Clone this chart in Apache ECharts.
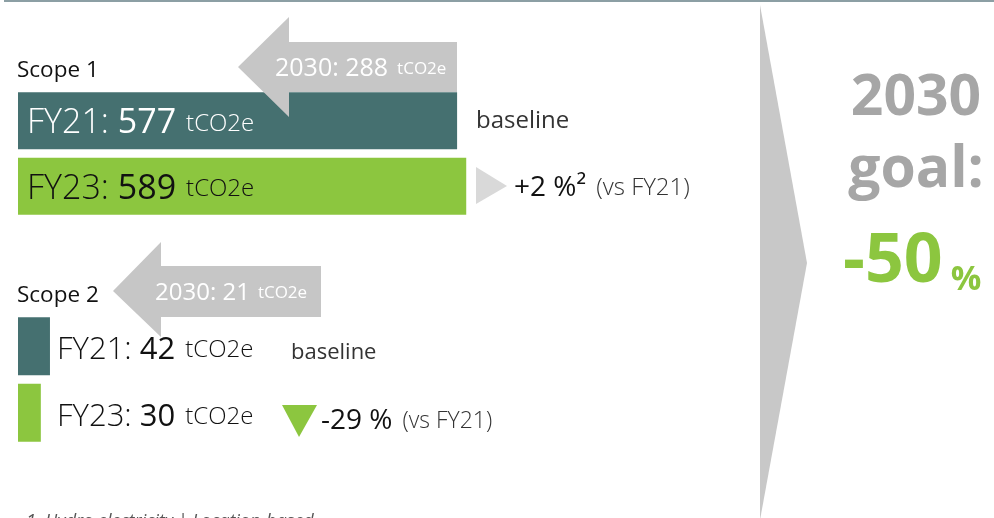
<!DOCTYPE html>
<html>
<head>
<meta charset="utf-8">
<script src="https://cdn.jsdelivr.net/npm/echarts@6/dist/echarts.min.js"></script>
<style>
  html, body { margin: 0; padding: 0; background: #ffffff; }
  #chart { width: 994px; height: 518px; }
</style>
</head>
<body>
<div id="chart"></div>
<script>
// Emissions by scope (tCO2e), baseline FY21 vs FY23
const periods = ['FY21', 'FY23'];
const scope1 = [577, 589];
const scope2 = [42, 30];
const target2030 = [288, 21];
const goalYear = '2030';
const goalPct = -50;
const unit = 'tCO2e';

const FONT = 'Open Sans';
const TEAL = '#457070';
const GREEN = '#8cc63f';
const ARROW_GREY = '#c6c6c6';

const pct = v => Math.round((v[1] - v[0]) / v[0] * 100);
const change1 = pct(scope1);
const change2 = pct(scope2);
const signed = n => (n > 0 ? '+' : '') + n;

const chart = echarts.init(document.getElementById('chart'), null, { renderer: 'canvas' });

function barData(values) {
  return values.map((v, i) => ({
    value: v,
    itemStyle: { color: i === 0 ? TEAL : GREEN }
  }));
}

// light (w) and dark (d) variants of the value label
function labelRich(size, unitSize) {
  const out = {};
  [['w', '#ffffff'], ['d', '#111111']].forEach(([k, c]) => {
    out['a' + k] = { fontFamily: FONT, fontSize: size, fontWeight: 300, color: c };
    out['b' + k] = { fontFamily: FONT, fontSize: size, fontWeight: 400, color: c, padding: [0, 10, 0, 0] };
    out['c' + k] = { fontFamily: FONT, fontSize: unitSize, fontWeight: 300, color: c };
  });
  return out;
}

const makeFmt = darkFor => p => {
  const k = darkFor(p.dataIndex) ? 'd' : 'w';
  return `{a${k}|${periods[p.dataIndex]}: }{b${k}|${p.value}}{c${k}|${unit}}`;
};

const option = {
  animation: false,
  backgroundColor: '#ffffff',
  grid: [
    { left: 18, width: 761, top: 88, height: 131 },
    { left: 18, width: 761, top: 313, height: 133 }
  ],
  xAxis: [
    { gridIndex: 0, type: 'value', min: 0, max: 1000, show: false },
    { gridIndex: 1, type: 'value', min: 0, max: 1000, show: false }
  ],
  yAxis: [
    { gridIndex: 0, type: 'category', data: periods, inverse: true, show: false },
    { gridIndex: 1, type: 'category', data: periods, inverse: true, show: false }
  ],
  series: [
    {
      type: 'bar',
      xAxisIndex: 0, yAxisIndex: 0,
      barWidth: 57,
      data: barData(scope1),
      label: {
        show: true,
        position: 'insideLeft',
        distance: 9,
        offset: [0, 3],
        formatter: makeFmt(i => i === 1),
        rich: labelRich(34, 24)
      },
      z: 2
    },
    {
      type: 'bar',
      xAxisIndex: 1, yAxisIndex: 1,
      barWidth: 58,
      data: barData(scope2),
      label: {
        show: true,
        position: [39, '50%'],
        align: 'left',
        verticalAlign: 'middle',
        offset: [0, 4],
        formatter: makeFmt(() => true),
        rich: labelRich(31, 24)
      },
      z: 2
    }
  ],
  graphic: [
    // rule along the top edge
    { type: 'line', shape: { x1: 4, y1: 1, x2: 994, y2: 1 }, style: { stroke: '#8c9fa4', lineWidth: 2 }, z: 10 },

    // section headings
    { type: 'text', x: 17, y: 71, style: { text: 'Scope 1', fontFamily: FONT, fontSize: 22.5, fill: '#111', verticalAlign: 'middle' }, z: 10 },
    { type: 'text', x: 17, y: 296, style: { text: 'Scope 2', fontFamily: FONT, fontSize: 22.5, fill: '#111', verticalAlign: 'middle' }, z: 10 },

    // 2030 target callout arrows
    {
      type: 'polygon', z: 20,
      shape: { points: [[238, 67], [289, 17], [289, 42], [457, 42], [457, 92], [289, 92], [289, 117]] },
      style: { fill: ARROW_GREY }
    },
    {
      type: 'text', x: 275, y: 69, z: 21,
      style: {
        text: `{a|${goalYear}: ${target2030[0]}}{b|${unit}}`,
        verticalAlign: 'middle',
        rich: {
          a: { fontFamily: FONT, fontSize: 25, fill: '#ffffff', padding: [0, 9, 0, 0] },
          b: { fontFamily: FONT, fontSize: 17, fill: '#ffffff' }
        }
      }
    },
    {
      type: 'polygon', z: 20,
      shape: { points: [[113, 291], [161, 242], [161, 266], [321, 266], [321, 317], [161, 317], [161, 337]] },
      style: { fill: ARROW_GREY }
    },
    {
      type: 'text', x: 155, y: 293, z: 21,
      style: {
        text: `{a|${goalYear}: ${target2030[1]}}{b|${unit}}`,
        verticalAlign: 'middle',
        rich: {
          a: { fontFamily: FONT, fontSize: 24, fill: '#ffffff', padding: [0, 8, 0, 0] },
          b: { fontFamily: FONT, fontSize: 17, fill: '#ffffff' }
        }
      }
    },

    // baseline notes
    { type: 'text', x: 476, y: 121, style: { text: 'baseline', fontFamily: FONT, fontSize: 24, fill: '#333', verticalAlign: 'middle' }, z: 10 },
    { type: 'text', x: 291, y: 353, style: { text: 'baseline', fontFamily: FONT, fontSize: 22, fill: '#333', verticalAlign: 'middle' }, z: 10 },

    // change vs FY21, scope 1
    { type: 'polygon', shape: { points: [[476, 167], [507, 186], [476, 204]] }, style: { fill: '#d9d9d9' }, z: 10 },
    {
      type: 'text', x: 514, y: 188, z: 10,
      style: {
        text: `{a|${signed(change1)} %²}{b|(vs ${periods[0]})}`,
        verticalAlign: 'middle',
        rich: {
          a: { fontFamily: FONT, fontSize: 28, fill: '#111', padding: [0, 10, 0, 0] },
          b: { fontFamily: FONT, fontSize: 24, fontWeight: 300, fill: '#333' }
        }
      }
    },

    // change vs FY21, scope 2
    { type: 'polygon', shape: { points: [[282, 405], [317, 405], [299, 437]] }, style: { fill: GREEN }, z: 10 },
    {
      type: 'text', x: 321, y: 421, z: 10,
      style: {
        text: `{a|${signed(change2)} %}{b|(vs ${periods[0]})}`,
        verticalAlign: 'middle',
        rich: {
          a: { fontFamily: FONT, fontSize: 28, fill: '#111', padding: [0, 10, 0, 0] },
          b: { fontFamily: FONT, fontSize: 23, fontWeight: 300, fill: '#333' }
        }
      }
    },

    // chevron leading to the goal
    { type: 'polygon', shape: { points: [[760, 5], [807, 263], [760, 520]] }, style: { fill: '#c8c8c8' }, z: 5 },

    // 2030 goal
    { type: 'text', x: 916, y: 99, style: { text: goalYear, fontFamily: FONT, fontWeight: 700, fontSize: 57, fill: '#a6a6a6', align: 'center', verticalAlign: 'middle' }, z: 10 },
    { type: 'text', x: 916, y: 171, style: { text: 'goal:', fontFamily: FONT, fontWeight: 700, fontSize: 57, fill: '#a6a6a6', align: 'center', verticalAlign: 'middle' }, z: 10 },
    {
      type: 'text', x: 843, y: 263, z: 10,
      style: {
        text: `{a|${goalPct}}{b|%}`,
        verticalAlign: 'middle',
        rich: {
          a: { fontFamily: FONT, fontWeight: 700, fontSize: 68, fill: GREEN, padding: [0, 8, 0, 0] },
          b: { fontFamily: FONT, fontWeight: 700, fontSize: 34, fill: GREEN, verticalAlign: 'bottom' }
        }
      }
    },

    // footnote (runs off the lower edge)
    { type: 'text', x: 26, y: 513, style: { text: '1. Hydro electricity | Location-based', fontFamily: FONT, fontStyle: 'italic', fontSize: 18, fill: '#555', verticalAlign: 'top' }, z: 10 }
  ]
};

chart.setOption(option);
</script>
</body>
</html>
